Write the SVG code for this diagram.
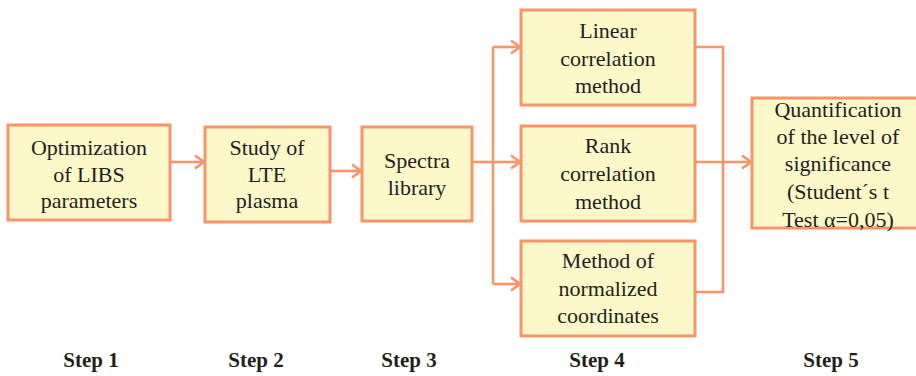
<svg xmlns="http://www.w3.org/2000/svg" width="916" height="376" viewBox="0 0 916 376">
<style>
.box{fill:#FDF8C9;stroke:#F7956A;stroke-width:3}
.t{font-family:"Liberation Serif","Times New Roman",serif;font-size:22px;fill:#231F20;text-anchor:middle}
.s{font-family:"Liberation Serif","Times New Roman",serif;font-size:21px;font-weight:bold;fill:#231F20;text-anchor:middle}
.c{fill:none;stroke:#F7956A;stroke-width:2.6}
</style>
<defs>
<marker id="ah" markerUnits="userSpaceOnUse" markerWidth="14" markerHeight="16" refX="12" refY="8" orient="auto">
<polyline points="3,1.5 12,8 3,14.5" fill="none" stroke="#F7956A" stroke-width="2.6"/>
</marker>
</defs>
<rect width="916" height="376" fill="#fff"/>
<g id="connectors">
<line class="c" x1="170" y1="162" x2="204" y2="162" marker-end="url(#ah)"/>
<line class="c" x1="330" y1="171" x2="361" y2="171" marker-end="url(#ah)"/>
<line class="c" x1="472" y1="162" x2="493" y2="162"/>
<line class="c" x1="493" y1="47" x2="493" y2="284"/>
<line class="c" x1="493" y1="47" x2="520" y2="47" marker-end="url(#ah)"/>
<line class="c" x1="493" y1="162" x2="520" y2="162" marker-end="url(#ah)"/>
<line class="c" x1="493" y1="284" x2="520" y2="284" marker-end="url(#ah)"/>
<polyline class="c" points="695,47 723,47 723,292 695,292"/>
<line class="c" x1="695" y1="162" x2="751" y2="162" marker-end="url(#ah)"/>
</g>
<g id="n1">
<rect class="box" x="8" y="125" width="162" height="95"/>
<text class="t" x="89" y="155">Optimization</text>
<text class="t" x="89" y="182">of LIBS</text>
<text class="t" x="89" y="208">parameters</text>
</g>
<g id="n2">
<rect class="box" x="205" y="127" width="125" height="95"/>
<text class="t" x="267" y="155">Study of</text>
<text class="t" x="267" y="182">LTE</text>
<text class="t" x="267" y="208">plasma</text>
</g>
<g id="n3">
<rect class="box" x="362" y="127" width="110" height="94"/>
<text class="t" x="417" y="168">Spectra</text>
<text class="t" x="417" y="195">library</text>
</g>
<g id="n4">
<rect class="box" x="521" y="10" width="174" height="95"/>
<text class="t" x="608" y="38">Linear</text>
<text class="t" x="608" y="66">correlation</text>
<text class="t" x="608" y="93">method</text>
</g>
<g id="n5">
<rect class="box" x="521" y="126" width="174" height="95"/>
<text class="t" x="608" y="153">Rank</text>
<text class="t" x="608" y="181">correlation</text>
<text class="t" x="608" y="209">method</text>
</g>
<g id="n6">
<rect class="box" x="521" y="241" width="174" height="95"/>
<text class="t" x="608" y="268">Method of</text>
<text class="t" x="608" y="296">normalized</text>
<text class="t" x="608" y="323">coordinates</text>
</g>
<g id="n7">
<rect class="box" x="752" y="98" width="170" height="130"/>
<text class="t" x="838" y="117">Quantification</text>
<text class="t" x="838" y="144">of the level of</text>
<text class="t" x="838" y="171">significance</text>
<text class="t" x="838" y="199">(Student´s t</text>
<text class="t" x="838" y="227">Test α=0,05)</text>
</g>
<g id="steps">
<text class="s" x="91" y="367">Step 1</text>
<text class="s" x="256" y="367">Step 2</text>
<text class="s" x="409" y="367">Step 3</text>
<text class="s" x="597" y="367">Step 4</text>
<text class="s" x="831" y="367">Step 5</text>
</g>
</svg>
